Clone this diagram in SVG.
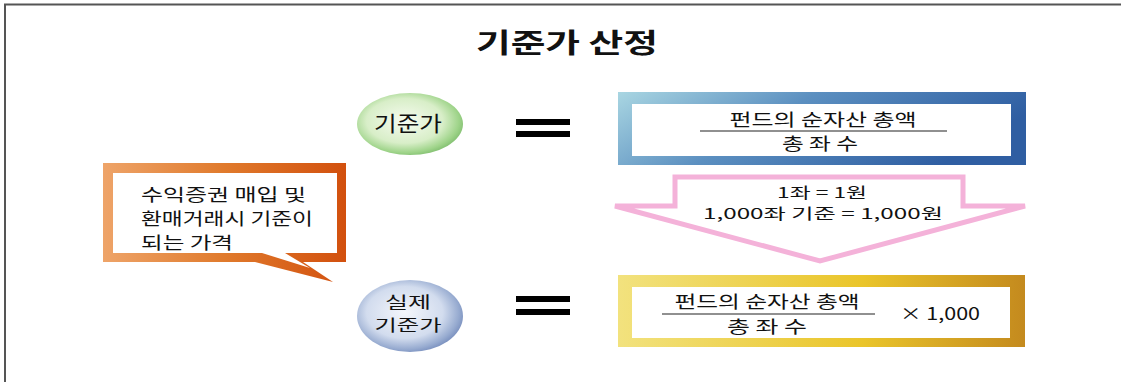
<svg xmlns="http://www.w3.org/2000/svg" width="1121" height="382" viewBox="0 0 1121 382">
<style>
.t{font-family:"Noto Sans CJK KR","Liberation Sans",sans-serif;fill:#111}
.f{font-size:17px;text-anchor:middle}
.eq{fill:#000}
</style>
<defs>
<radialGradient id="gG" cx="0.45" cy="0.45" r="0.6">
<stop offset="0" stop-color="#f6fbf0"/><stop offset="0.6" stop-color="#d8eec8"/><stop offset="0.85" stop-color="#9fd48a"/><stop offset="1" stop-color="#78b868"/>
</radialGradient>
<radialGradient id="gB" cx="0.45" cy="0.45" r="0.6">
<stop offset="0" stop-color="#f4f6fb"/><stop offset="0.6" stop-color="#d2dcee"/><stop offset="0.85" stop-color="#97abd0"/><stop offset="1" stop-color="#6f86b8"/>
</radialGradient>
<linearGradient id="gBlue" x1="0" y1="0" x2="1" y2="0.3">
<stop offset="0" stop-color="#a9d6e2"/><stop offset="0.45" stop-color="#5b8fc0"/><stop offset="1" stop-color="#2f5ea2"/>
</linearGradient>
<linearGradient id="gGold" x1="0" y1="0" x2="1" y2="0">
<stop offset="0" stop-color="#f2e27e"/><stop offset="0.6" stop-color="#eac52a"/><stop offset="1" stop-color="#c48a1e"/>
</linearGradient>
<linearGradient id="gOr" x1="0" y1="0" x2="1" y2="0">
<stop offset="0" stop-color="#eea469"/><stop offset="0.5" stop-color="#e07a2c"/><stop offset="1" stop-color="#d2500e"/>
</linearGradient>
</defs>
<g id="frame">
<path d="M5 382 V4.5 H1121" fill="none" stroke="#555" stroke-width="2"/>
</g>
<g id="title"><text class="t" x="567" y="53" font-size="27" font-weight="bold" text-anchor="middle" textLength="182" lengthAdjust="spacingAndGlyphs">기준가 산정</text></g>
<g id="node-basis">
<ellipse cx="410" cy="124" rx="53" ry="31" fill="url(#gG)"/>
<text class="t" x="408" y="131" font-size="21" text-anchor="middle" textLength="68" lengthAdjust="spacingAndGlyphs">기준가</text>
</g>
<g id="node-actual">
<ellipse cx="410" cy="316" rx="53" ry="36" fill="url(#gB)"/>
<text class="t" x="408" y="308" font-size="16" text-anchor="middle" textLength="46" lengthAdjust="spacingAndGlyphs">실제</text>
<text class="t" x="408" y="331" font-size="16" text-anchor="middle" textLength="67" lengthAdjust="spacingAndGlyphs">기준가</text>
</g>
<g id="eq1" class="eq"><rect x="516" y="119" width="54" height="6"/><rect x="516" y="131" width="54" height="6"/></g>
<g id="eq2" class="eq"><rect x="516" y="296" width="54" height="6"/><rect x="516" y="309" width="54" height="6"/></g>
<g id="node-formula">
<rect x="618" y="92" width="408" height="73" fill="url(#gBlue)"/>
<rect x="632" y="104" width="379" height="52" fill="#fff"/>
<text class="t f" x="823" y="126" textLength="187" lengthAdjust="spacingAndGlyphs">펀드의 순자산 총액</text>
<line x1="700" y1="131" x2="947" y2="131" stroke="#222" stroke-width="1.2"/>
<text class="t f" x="820" y="150" textLength="76" lengthAdjust="spacingAndGlyphs">총 좌 수</text>
</g>
<g id="node-arrow">
<path d="M675 177 H963 V206 H1025 L820 261 L615 206 H675 Z" fill="#fff" stroke="#f4b2d9" stroke-width="5" stroke-linejoin="miter"/>
<text class="t" x="822" y="198" font-size="15" text-anchor="middle" textLength="90" lengthAdjust="spacingAndGlyphs">1좌 = 1원</text>
<text class="t" x="823" y="219" font-size="15" text-anchor="middle" textLength="240" lengthAdjust="spacingAndGlyphs">1,000좌 기준 = 1,000원</text>
</g>
<g id="node-actual-formula">
<rect x="618" y="275" width="407" height="72" fill="url(#gGold)"/>
<rect x="632" y="287" width="378" height="51" fill="#fff"/>
<text class="t f" x="767" y="308" textLength="185" lengthAdjust="spacingAndGlyphs">펀드의 순자산 총액</text>
<line x1="662" y1="314" x2="875" y2="314" stroke="#222" stroke-width="1.2"/>
<text class="t f" x="767" y="333" textLength="80" lengthAdjust="spacingAndGlyphs">총 좌 수</text>
<text class="t" x="940" y="320" font-size="17" text-anchor="middle" textLength="80" lengthAdjust="spacingAndGlyphs">× 1,000</text>
</g>
<g id="node-callout">
<path d="M103 163 H346 V262 H303 L333 282 L255 262 H103 Z" fill="url(#gOr)"/>
<path d="M113 173 H337 V253 H285 L310 268 L262 253 H113 Z" fill="#fff"/>
<text class="t" x="141" y="201" font-size="17" textLength="165" lengthAdjust="spacingAndGlyphs">수익증권 매입 및</text>
<text class="t" x="141" y="225" font-size="17" textLength="172" lengthAdjust="spacingAndGlyphs">환매거래시 기준이</text>
<text class="t" x="141" y="249" font-size="17" textLength="92" lengthAdjust="spacingAndGlyphs">되는 가격</text>
</g>
</svg>
